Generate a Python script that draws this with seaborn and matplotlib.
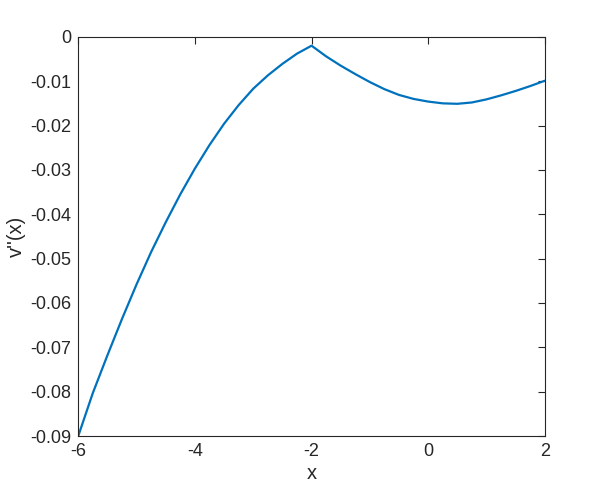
import matplotlib
matplotlib.use("Agg")
import matplotlib.pyplot as plt
import seaborn as sns
import pandas as pd

# values (x, v''(x))
x_vals = [-6.0, -5.75, -5.5, -5.25, -5.0, -4.75, -4.5, -4.25, -4.0, -3.75,
          -3.5, -3.25, -3.0, -2.75, -2.5, -2.25, -2.0,
          -1.75, -1.5, -1.25, -1.0, -0.75, -0.5, -0.25, 0.0, 0.25,
          0.5, 0.75, 1.0, 1.25, 1.5, 1.75, 2.0]
v_vals = [-0.0900, -0.0803, -0.0718, -0.0636, -0.0558, -0.0485, -0.0418, -0.0355,
          -0.0297, -0.0244, -0.0196, -0.0154, -0.0117, -0.0087, -0.0061, -0.0038,
          -0.0020,
          -0.0044, -0.0065, -0.0084, -0.0102, -0.0118, -0.0131, -0.0140, -0.0146,
          -0.0150, -0.0151, -0.0148, -0.0141, -0.0132, -0.0122, -0.0111, -0.0099]

x_ticks = [-6, -4, -2, 0, 2]
y_ticks = [0, -0.01, -0.02, -0.03, -0.04, -0.05, -0.06, -0.07, -0.08, -0.09]
y_tick_labels = ["0", "-0.01", "-0.02", "-0.03", "-0.04", "-0.05",
                 "-0.06", "-0.07", "-0.08", "-0.09"]

sns.set_style("white")
plt.rcParams["font.family"] = ["Liberation Sans", "DejaVu Sans"]
plt.rcParams["axes.unicode_minus"] = False

df = pd.DataFrame({"x": x_vals, "v": v_vals})

fig = plt.figure(figsize=(6.02, 4.91), dpi=100)
ax = fig.add_axes([0.13, 0.112, 0.775, 0.813])

sns.lineplot(data=df, x="x", y="v", ax=ax, color="#0072BD", linewidth=1.6,
             sort=False, estimator=None)

ax.set_xlim(-6, 2)
ax.set_ylim(-0.09, 0)
ax.set_xticks(x_ticks)
ax.set_xticklabels([str(t) for t in x_ticks])
ax.set_yticks(y_ticks)
ax.set_yticklabels(y_tick_labels)

ax.tick_params(direction="in", length=5, width=0.8, colors="#262626",
               labelsize=13, top=True, right=True, pad=5)
for side in ax.spines.values():
    side.set_color("#262626")
    side.set_linewidth(0.8)

ax.set_xlabel("x", fontsize=14.5, color="#262626", labelpad=3)
ax.set_ylabel("v''(x)", fontsize=14.5, color="#262626", labelpad=3)

fig.savefig("out.png", dpi=100, facecolor="white")
